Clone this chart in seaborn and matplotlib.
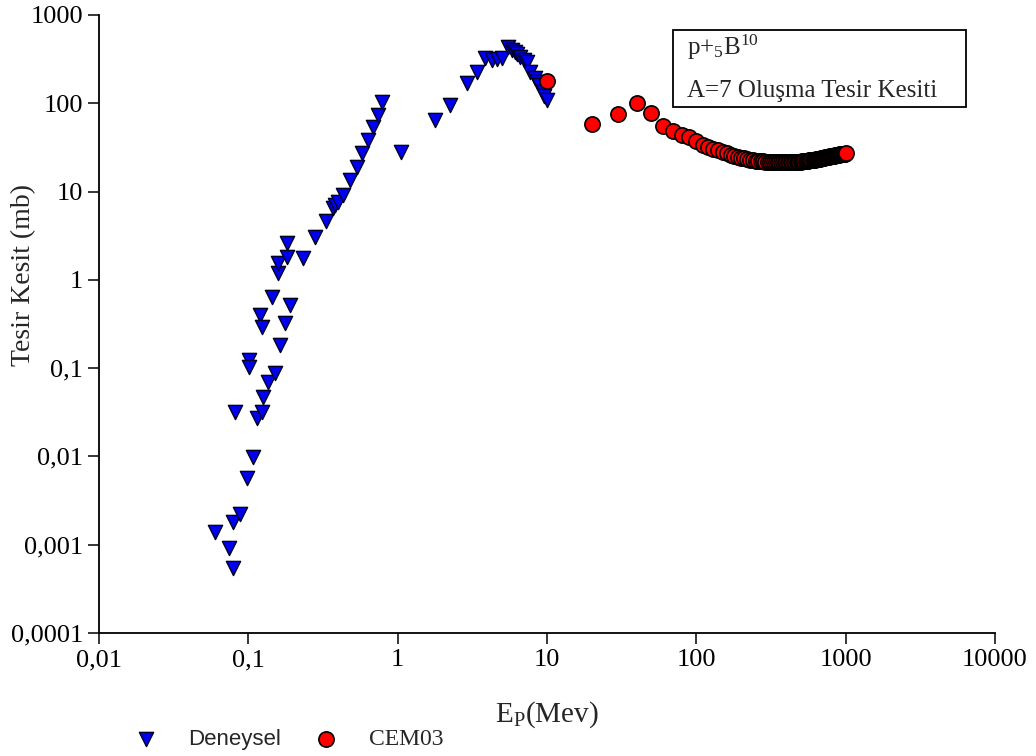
import matplotlib
matplotlib.use('agg')
import matplotlib.pyplot as plt
import matplotlib.ticker as mticker
import matplotlib.patches as mpatches
import seaborn as sns

den_x = [0.0595, 0.0738, 0.0785, 0.0785, 0.081, 0.0875, 0.0975, 0.1005, 0.1005, 0.107,
         0.1137, 0.119, 0.123, 0.123, 0.125, 0.135, 0.143, 0.150, 0.157, 0.159,
         0.162, 0.175, 0.181, 0.181, 0.189, 0.231, 0.278, 0.33, 0.367, 0.38,
         0.40, 0.43, 0.477, 0.53, 0.574, 0.63, 0.68, 0.735, 0.78, 1.06,
         1.77, 2.23, 2.9, 3.38, 3.83, 4.26, 4.6, 4.97, 5.46, 5.8,
         6.08, 6.3, 6.55, 7.0, 7.3, 7.65, 8.25, 8.6, 8.9, 9.36, 9.6, 9.95]
den_y = [0.0014, 0.00092, 0.00055, 0.0018, 0.032, 0.0022, 0.0057, 0.124, 0.104, 0.0099,
         0.0274, 0.40, 0.032, 0.294, 0.047, 0.070, 0.64, 0.0885, 1.2, 1.56,
         0.184, 0.326, 1.82, 2.62, 0.52, 1.77, 3.07, 4.66, 6.5, 7.1,
         7.6, 9.2, 13.6, 19, 27, 38, 54, 74, 104, 28,
         65, 96, 170, 227, 327, 310, 318, 327, 435, 400,
         380, 360, 335, 310, 293, 227, 194, 175, 160, 134, 120, 109]

# CEM03 calculation, every 10 MeV from 10 to 1000
cem_x = [10, 20, 30, 40, 50, 60, 70, 80, 90, 100,
         110, 120, 130, 140, 150, 160, 170, 180, 190, 200,
         210, 220, 230, 240, 250, 260, 270, 280, 290, 300,
         310, 320, 330, 340, 350, 360, 370, 380, 390, 400,
         410, 420, 430, 440, 450, 460, 470, 480, 490, 500,
         510, 520, 530, 540, 550, 560, 570, 580, 590, 600,
         610, 620, 630, 640, 650, 660, 670, 680, 690, 700,
         710, 720, 730, 740, 750, 760, 770, 780, 790, 800,
         810, 820, 830, 840, 850, 860, 870, 880, 890, 900,
         910, 920, 930, 940, 950, 960, 970, 980, 990, 1000]
cem_y = [180, 58, 76, 100, 77, 55, 48, 44, 41, 37,
         34, 32, 30.5, 29.2, 28, 27, 26.2, 25.4, 24.8, 24.3,
         23.8, 23.4, 23.0, 22.7, 22.4, 22.2, 22.0, 21.9, 21.8, 21.7,
         21.6, 21.6, 21.6, 21.5, 21.5, 21.5, 21.5, 21.5, 21.5, 21.5,
         21.5, 21.5, 21.5, 21.5, 21.5, 21.6, 21.6, 21.7, 21.7, 21.8,
         21.9, 22.0, 22.1, 22.2, 22.3, 22.4, 22.5, 22.6, 22.7, 22.8,
         22.9, 23.0, 23.1, 23.2, 23.4, 23.5, 23.6, 23.7, 23.9, 24.0,
         24.1, 24.2, 24.4, 24.5, 24.6, 24.7, 24.9, 25.0, 25.1, 25.2,
         25.3, 25.4, 25.5, 25.6, 25.7, 25.8, 25.9, 26.0, 26.1, 26.2,
         26.3, 26.4, 26.5, 26.5, 26.6, 26.7, 26.8, 26.9, 26.9, 27.0]

x_ticks = [0.01, 0.1, 1, 10, 100, 1000, 10000]
y_ticks = [0.0001, 0.001, 0.01, 0.1, 1, 10, 100, 1000]

sns.set_style('ticks')
plt.rcParams['font.family'] = ['Liberation Serif', 'DejaVu Serif']
plt.rcParams['mathtext.fontset'] = 'custom'
plt.rcParams['mathtext.rm'] = 'Liberation Serif'
plt.rcParams['mathtext.it'] = 'Liberation Serif:italic'

fig, ax = plt.subplots(figsize=(10.36, 7.56), dpi=100)
fig.subplots_adjust(left=0.0956, right=0.9604, top=0.9802, bottom=0.1627)

sns.scatterplot(x=den_x, y=den_y, marker='v', s=105, color='#0000ee',
                edgecolor='#000020', linewidth=1.0, ax=ax, label='Deneysel', zorder=3)
sns.scatterplot(x=cem_x, y=cem_y, marker='o', s=120, color='#ff0000',
                edgecolor='black', linewidth=1.2, ax=ax, label='CEM03', zorder=4)

ax.set_xscale('log')
ax.set_yscale('log')
ax.set_xlim(0.01, 10000)
ax.set_ylim(0.0001, 1000)
ax.set_xticks(x_ticks)
ax.set_yticks(y_ticks)
fmt = mticker.FuncFormatter(lambda v, p: '{:g}'.format(v).replace('.', ','))
ax.xaxis.set_major_formatter(fmt)
ax.yaxis.set_major_formatter(fmt)
ax.xaxis.set_minor_locator(mticker.NullLocator())
ax.yaxis.set_minor_locator(mticker.NullLocator())
ax.tick_params(axis='both', direction='out', length=8, width=1.1, labelsize=19,
               color='black', labelcolor='black')
for side in ['top', 'right']:
    ax.spines[side].set_visible(False)
for side in ['left', 'bottom']:
    ax.spines[side].set_linewidth(1.3)
    ax.spines[side].set_color('black')

ax.set_xlabel(r'E$_\mathrm{P}$(Mev)', fontsize=21)
ax.xaxis.set_label_coords(0.5, -0.108)
ax.set_ylabel('Tesir Kesit (mb)', fontsize=20)
ax.yaxis.set_label_coords(-0.07, 0.58)

# annotation box
box = mpatches.Rectangle((0.6406, 0.851), 0.327, 0.1247, transform=ax.transAxes,
                         facecolor='white', edgecolor='black', linewidth=1.3, zorder=5)
ax.add_patch(box)
ax.text(0.656, 0.948, r'p+$_5$B$^{10}$', transform=ax.transAxes, fontsize=18,
        va='center', ha='left', zorder=6)
ax.text(0.656, 0.877, 'A=7 Oluşma Tesir Kesiti', transform=ax.transAxes, fontsize=18,
        va='center', ha='left', zorder=6)

handles, labels = ax.get_legend_handles_labels()
ax.legend_.remove()
leg = fig.legend(handles, labels, loc='center left', bbox_to_anchor=(0.109, 0.022),
                 ncol=2, frameon=False, fontsize=17, columnspacing=0.9,
                 handletextpad=0.8, borderaxespad=0)
leg.get_texts()[0].set_family(['Liberation Sans', 'DejaVu Sans'])
leg.get_texts()[0].set_fontsize(16)

fig.savefig('out.png', dpi=100, facecolor='white')
